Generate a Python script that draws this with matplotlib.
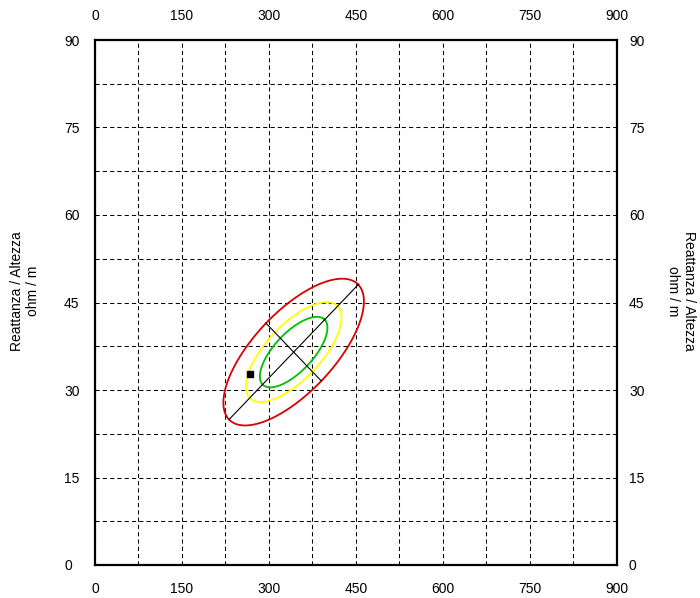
import numpy as np
import matplotlib
matplotlib.use("Agg")
import matplotlib.pyplot as plt

# ---- data ----
x_ticks = [0, 150, 300, 450, 600, 750, 900]
y_ticks = [0, 15, 30, 45, 60, 75, 90]
mean_rh = 342.5      # R/H mean (ohm/m)
mean_xh = 36.5       # Xc/H mean (ohm/m)
sd_rh = 49.5
sd_xh = 5.14
corr = 0.69
levels = [0.50, 0.75, 0.95]
level_colors = ["#00c000", "#ffff00", "#d80000"]
subject_rh = [267]
subject_xh = [32.7]
ylabel_text = "Reattanza / Altezza\nohm / m"

plt.rcParams['font.family'] = ['Liberation Sans', 'DejaVu Sans']
FS = 10

fig = plt.figure(figsize=(7.0, 5.98), dpi=100)
ax = fig.add_axes([95/700, 33/598, 522/700, 525/598])
ax.set_xlim(0, 900)
ax.set_ylim(0, 90)

# grid
ax.set_xticks(x_ticks)
ax.set_yticks(y_ticks)
ax.set_xticks(np.arange(75, 900, 150), minor=True)
ax.set_yticks(np.arange(7.5, 90, 15), minor=True)
ax.grid(True, which='both', color='black', linewidth=0.75, linestyle=(0, (4, 3)))
ax.set_axisbelow(True)

# ticks and labels on all four sides
ax.tick_params(axis='both', which='both', length=0, labelsize=FS)
ax.tick_params(axis='x', which='major', top=True, labeltop=True, bottom=True, labelbottom=True, pad=12.5)
ax.tick_params(axis='y', which='major', left=True, labelleft=True, right=False, labelright=False, pad=22.3)
for lbl in ax.get_yticklabels():
    lbl.set_horizontalalignment('left')
sec = ax.secondary_yaxis('right')
sec.set_yticks(y_ticks)
sec.tick_params(length=0, labelsize=FS, pad=8.6)
sec.spines['right'].set_visible(False)

for s in ax.spines.values():
    s.set_linewidth(1.6)
    s.set_color('black')

# tolerance ellipses
t = np.linspace(0, 2*np.pi, 400)
for p, col in zip(levels, level_colors):
    c = np.sqrt(-2*np.log(1-p))
    a = c*np.sqrt(1+corr)/np.sqrt(2)
    b = c*np.sqrt(1-corr)/np.sqrt(2)
    z1 = a*np.cos(t) + b*np.sin(t)
    z2 = a*np.cos(t) - b*np.sin(t)
    ax.plot(mean_rh + sd_rh*z1, mean_xh + sd_xh*z2, color=col, linewidth=1.3, zorder=3)

# axes of the 95% ellipse
c95 = np.sqrt(-2*np.log(1-levels[-1]))
a = c95*np.sqrt((1+corr)/2)
b = c95*np.sqrt((1-corr)/2)
ax.plot([mean_rh - a*sd_rh, mean_rh + a*sd_rh], [mean_xh - a*sd_xh, mean_xh + a*sd_xh],
        color='black', linewidth=0.8, zorder=4)
ax.plot([mean_rh - b*sd_rh, mean_rh + b*sd_rh], [mean_xh + b*sd_xh, mean_xh - b*sd_xh],
        color='black', linewidth=0.8, zorder=4)

# subject point
ax.plot(subject_rh, subject_xh, marker='s', markersize=5, color='black', linestyle='none', zorder=5)

# axis titles
fig.text(25/700, 1 - 291/598, ylabel_text, rotation=90, ha='center', va='center',
         fontsize=FS, multialignment='center')
fig.text(681/700, 1 - 291/598, ylabel_text, rotation=-90, ha='center', va='center',
         fontsize=FS, multialignment='center')

fig.savefig('out.png', dpi=100)
